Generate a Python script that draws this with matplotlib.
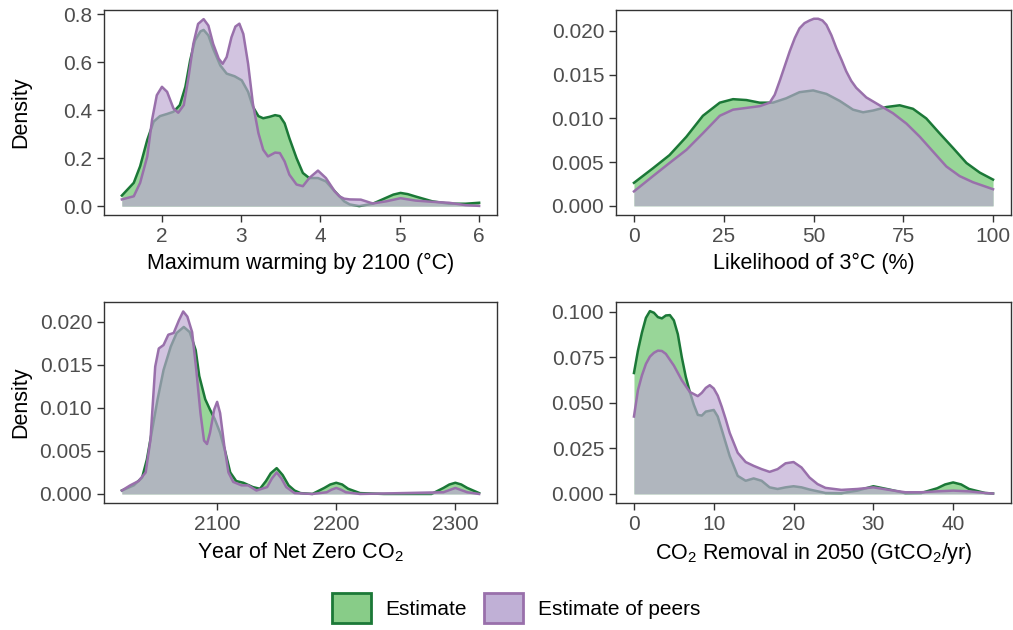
from matplotlib import pyplot as plt
from matplotlib.patches import Patch

plt.rcParams['font.family'] = ['Liberation Sans', 'DejaVu Sans']
plt.rcParams['mathtext.default'] = 'regular'

# Maximum warming by 2100
warm_x_est = [1.5, 1.65, 1.73, 1.82, 1.90, 1.98, 2.07, 2.15, 2.23, 2.30, 2.36, 2.42, 2.49, 2.53, 2.59, 2.65,
              2.74, 2.82, 2.92, 3.01, 3.09, 3.15, 3.22, 3.28, 3.36, 3.43, 3.49, 3.55, 3.61, 3.70, 3.78, 3.86,
              3.97, 4.07, 4.18, 4.24, 4.30, 4.37, 4.49, 4.66, 4.83, 4.92, 5.01, 5.1, 5.2, 5.41, 5.62, 5.83, 6.0]
warm_y_est = [0.044, 0.097, 0.166, 0.276, 0.352, 0.375, 0.384, 0.393, 0.421, 0.497, 0.607, 0.690, 0.728, 0.734,
              0.711, 0.655, 0.586, 0.552, 0.541, 0.524, 0.476, 0.414, 0.375, 0.366, 0.372, 0.379, 0.375, 0.345,
              0.283, 0.200, 0.138, 0.117, 0.117, 0.103, 0.062, 0.041, 0.02, 0.007, 0.0, 0.01, 0.035, 0.048,
              0.055, 0.05, 0.04, 0.02, 0.01, 0.01, 0.014]
warm_x_peer = [1.5, 1.65, 1.73, 1.82, 1.88, 1.94, 2.005, 2.07, 2.15, 2.21, 2.28, 2.34, 2.40, 2.46, 2.53, 2.59,
               2.65, 2.72, 2.77, 2.82, 2.88, 2.93, 2.98, 3.03, 3.09, 3.15, 3.22, 3.28, 3.34, 3.43, 3.49, 3.55,
               3.61, 3.70, 3.78, 3.86, 3.97, 4.07, 4.18, 4.24, 4.30, 4.37, 4.51, 4.66, 4.83, 5.01, 5.2, 5.41,
               5.62, 5.83, 6.0]
warm_y_peer = [0.028, 0.041, 0.097, 0.207, 0.359, 0.462, 0.497, 0.476, 0.407, 0.389, 0.421, 0.538, 0.676, 0.759,
               0.779, 0.752, 0.676, 0.614, 0.593, 0.621, 0.703, 0.748, 0.760, 0.717, 0.593, 0.428, 0.304, 0.235,
               0.207, 0.223, 0.221, 0.186, 0.131, 0.090, 0.083, 0.117, 0.148, 0.117, 0.062, 0.041, 0.031, 0.028,
               0.027, 0.011, 0.02, 0.033, 0.023, 0.018, 0.014, 0.004, 0.001]

# Likelihood of 3C
lik_x_est = [0, 5.3, 9.9, 14.6, 19.2, 23.9, 27.6, 31.3, 35, 38.7, 42.4, 46.1, 49.9, 53.6, 57.3, 61, 63.8,
             66.6, 70.3, 74, 77.7, 81.4, 85.1, 88.9, 92.6, 96.3, 100]
lik_y_est = [0.00263, 0.0043, 0.0058, 0.0079, 0.0103, 0.0118, 0.0122, 0.0121, 0.0118, 0.0118, 0.0123, 0.0130,
             0.0132, 0.0128, 0.0120, 0.0110, 0.0107, 0.0109, 0.0113, 0.0115, 0.0111, 0.0100, 0.0083, 0.0066,
             0.0049, 0.0038, 0.0030]
lik_x_peer = [0, 5.3, 9.9, 14.6, 19.2, 23.9, 27.6, 31.3, 35, 37.8, 39.2, 40.6, 42, 43.4, 44.8, 46.1, 47.5,
              48.9, 50.1, 51.3, 52.5, 53.6, 55, 56.4, 57.8, 59.1, 60.5, 61.9, 64.7, 68.4, 72.1, 75.9, 79.6,
              83.3, 87, 90.7, 94.4, 100]
lik_y_peer = [0.00165, 0.0034, 0.0049, 0.0064, 0.0083, 0.0103, 0.0110, 0.0112, 0.0114, 0.0118, 0.0127, 0.0143,
              0.0160, 0.0177, 0.0192, 0.0203, 0.0209, 0.0212, 0.0214, 0.0214, 0.0212, 0.0207, 0.0195, 0.0180,
              0.0167, 0.0154, 0.0143, 0.0135, 0.0124, 0.0115, 0.0106, 0.0094, 0.0079, 0.0062, 0.0045, 0.0034,
              0.0027, 0.0019]

# Year of net zero CO2
nz_x_est = [2020, 2030, 2037, 2041, 2045.5, 2050, 2055, 2061, 2066, 2072, 2077, 2082, 2085, 2090, 2094,
            2098, 2102.5, 2107, 2111, 2116, 2122, 2130, 2136, 2141, 2145, 2150, 2155, 2160, 2165, 2170, 2180,
            2190, 2195, 2200, 2205, 2210, 2220, 2240, 2280, 2290, 2295, 2300, 2305, 2310, 2320]
nz_y_est = [0.0004, 0.001, 0.0019, 0.004, 0.0075, 0.011, 0.0144, 0.0171, 0.0187, 0.0194, 0.0188, 0.0167,
            0.0137, 0.011, 0.0098, 0.0087, 0.0071, 0.0048, 0.0025, 0.0015, 0.0013, 0.0008, 0.0006, 0.0015,
            0.0024, 0.003, 0.0022, 0.001, 0.0004, 0.0001, 0.0, 0.0007, 0.0011, 0.0013, 0.0011, 0.0006, 0.0001,
            0.0, 0.0, 0.0007, 0.0011, 0.0013, 0.0011, 0.0007, 0.0001]
nz_x_peer = [2020, 2027, 2034, 2040, 2044, 2048, 2051, 2055, 2059, 2063.5, 2068, 2071.5, 2075, 2079, 2082.5,
             2086, 2089, 2091.5, 2094, 2097.5, 2100, 2102.5, 2106, 2109.5, 2113.5, 2120.5, 2126, 2133, 2142,
             2146, 2150, 2154, 2158, 2165, 2180, 2192, 2196, 2200, 2204, 2208, 2220, 2290, 2296, 2300, 2304,
             2310, 2320]
nz_y_peer = [0.0004, 0.001, 0.0015, 0.0025, 0.0063, 0.0148, 0.0169, 0.0173, 0.0185, 0.0187, 0.0202, 0.0212,
             0.0206, 0.0188, 0.0144, 0.0094, 0.0062, 0.0058, 0.0071, 0.0098, 0.0107, 0.0094, 0.0056, 0.0025,
             0.0014, 0.001, 0.001, 0.0004, 0.0008, 0.0018, 0.0025, 0.0018, 0.0008, 0.0001, 0.0, 0.0002, 0.0005,
             0.0007, 0.0005, 0.0002, 0.0, 0.0002, 0.0005, 0.0007, 0.0005, 0.0002, 0.0]

# CO2 removal in 2050
cdr_x_est = [0, 0.5, 1, 1.5, 2, 2.5, 3, 3.5, 4, 4.5, 5, 5.5, 6, 6.5, 7, 7.5, 8, 8.5, 9, 10, 10.5, 11, 11.5,
             12, 13, 14, 15, 16, 17, 18, 19, 20, 21, 22, 24, 26, 28, 30, 32, 34, 36, 38, 39, 40, 41, 42, 44, 45]
cdr_y_est = [0.0664, 0.0787, 0.0886, 0.0967, 0.1004, 0.0995, 0.0971, 0.0964, 0.098, 0.0982, 0.0953, 0.0877,
             0.075, 0.0642, 0.056, 0.049, 0.0434, 0.043, 0.0452, 0.0461, 0.0425, 0.0353, 0.028, 0.0208, 0.0099,
             0.0072, 0.0085, 0.0072, 0.0036, 0.0027, 0.0036, 0.0042, 0.0036, 0.0024, 0.0005, 0.0004, 0.0018,
             0.0042, 0.0024, 0.0004, 0.0005, 0.0031, 0.0052, 0.0063, 0.0052, 0.0027, 0.0005, 0.0002]
cdr_x_peer = [0, 0.5, 1, 1.5, 2, 2.5, 3, 3.5, 4, 5, 6, 7, 8, 8.5, 9, 9.5, 10, 10.5, 11, 11.5, 12, 13, 14, 15,
              16, 17, 18, 19, 20, 21, 22, 23, 24, 26, 28, 30, 32, 34, 36, 38, 40, 42, 44, 45]
cdr_y_peer = [0.0425, 0.057, 0.0651, 0.0714, 0.0754, 0.0775, 0.0787, 0.0785, 0.0769, 0.0705, 0.0624, 0.056,
              0.0537, 0.0555, 0.0582, 0.0597, 0.0579, 0.054, 0.0479, 0.041, 0.0335, 0.0226, 0.0175, 0.0154,
              0.0136, 0.0121, 0.0136, 0.0168, 0.0175, 0.0145, 0.009, 0.0054, 0.0033, 0.0022, 0.0027, 0.0036,
              0.0022, 0.0009, 0.0009, 0.0014, 0.0018, 0.0014, 0.0005, 0.0002]

green_line = '#1b7837'
green_fill = '#98d698'
purple_line = '#9970ab'
purple_fill = '#bca7d1'
text_grey = '#4d4d4d'
W, H = 1013, 630


def add_panel(box, xe, ye, xp, yp, xlim, ylim, xticks, yticks, yfmt, xlabel, ylabel=None):
    left, top, right, bottom = box
    ax = fig.add_axes([left / W, 1 - bottom / H, (right - left) / W, (bottom - top) / H])
    ax.fill_between(xe, ye, 0, color=green_fill, linewidth=0, zorder=1)
    ax.plot(xe, ye, color=green_line, linewidth=1.8, solid_joinstyle='round', zorder=2)
    ax.fill_between(xp, yp, 0, color=purple_fill, alpha=0.67, linewidth=0, zorder=3)
    ax.plot(xp, yp, color=purple_line, linewidth=1.8, solid_joinstyle='round', zorder=4)
    ax.set_xlim(xlim)
    ax.set_ylim(ylim)
    ax.set_xticks(xticks)
    ax.set_yticks(yticks)
    ax.set_yticklabels([yfmt.format(v) for v in yticks])
    ax.tick_params(colors='#333333', labelcolor=text_grey, labelsize=15, length=5, width=1.0)
    for s in ax.spines.values():
        s.set_color('#333333')
        s.set_linewidth(1.0)
    ax.set_xlabel(xlabel, fontsize=15.5, labelpad=5)
    if ylabel:
        ax.set_ylabel(ylabel, fontsize=15.5)
        ax.yaxis.set_label_coords((31 - left) / (right - left), 0.5)
    return ax


fig = plt.figure(figsize=(W / 100, H / 100), dpi=100)

add_panel((104, 10, 497, 215), warm_x_est, warm_y_est, warm_x_peer, warm_y_peer,
          (1.275, 6.225), (-0.037, 0.817), [2, 3, 4, 5, 6], [0, 0.2, 0.4, 0.6, 0.8], '{:.1f}',
          'Maximum warming by 2100 (°C)', 'Density')
add_panel((616, 10, 1011, 215), lik_x_est, lik_y_est, lik_x_peer, lik_y_peer,
          (-5, 105), (-0.00105, 0.0224), [0, 25, 50, 75, 100], [0, 0.005, 0.01, 0.015, 0.02], '{:.3f}',
          'Likelihood of 3°C (%)')
add_panel((104, 302, 497, 503), nz_x_est, nz_y_est, nz_x_peer, nz_y_peer,
          (2005, 2335), (-0.00105, 0.0223), [2100, 2200, 2300], [0, 0.005, 0.01, 0.015, 0.02], '{:.3f}',
          'Year of Net Zero CO$_2$', 'Density')
add_panel((616, 302, 1011, 503), cdr_x_est, cdr_y_est, cdr_x_peer, cdr_y_peer,
          (-2.25, 47.25), (-0.005, 0.1054), [0, 10, 20, 30, 40], [0, 0.025, 0.05, 0.075, 0.1], '{:.3f}',
          'CO$_2$ Removal in 2050 (GtCO$_2$/yr)')

handles = [Patch(facecolor='#88cc88', edgecolor=green_line, linewidth=2, label='Estimate'),
           Patch(facecolor='#c0b0d6', edgecolor=purple_line, linewidth=2, label='Estimate of peers')]
fig.legend(handles=handles, loc='center', bbox_to_anchor=(516 / W, 1 - 608 / H), ncol=2, frameon=False,
           fontsize=15, handlelength=1.9, handleheight=1.9, handletextpad=0.7, columnspacing=0.8)

plt.savefig('out.png', dpi=100)
